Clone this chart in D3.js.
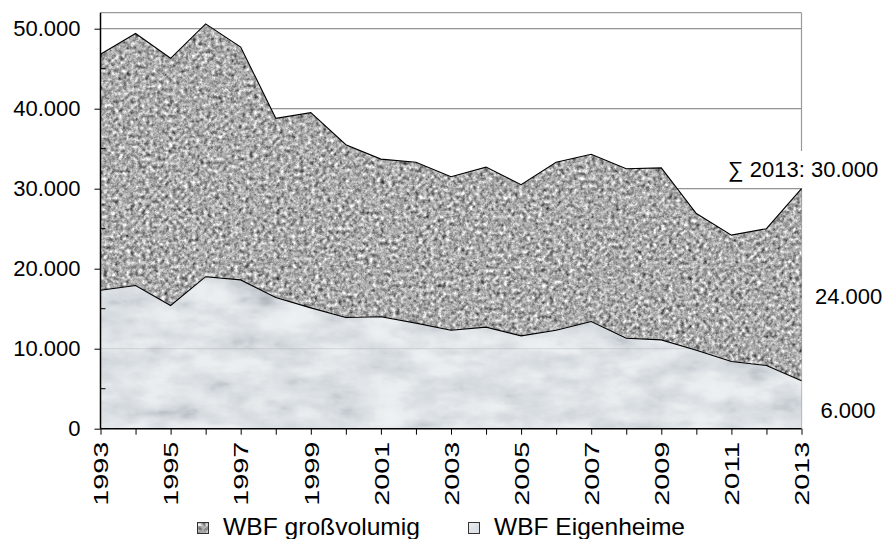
<!DOCTYPE html>
<html>
<head>
<meta charset="utf-8">
<script src="https://cdn.jsdelivr.net/npm/d3@7"></script>
<style>
  html, body { margin: 0; padding: 0; background: #fff; }
  svg { display: block; font-family: "Liberation Sans", Arial, sans-serif; }
</style>
</head>
<body>
<svg id="chart" width="884" height="539"></svg>
<script>
// Wohnbauförderung: geförderte Einheiten pro Jahr
const years = [1993, 1994, 1995, 1996, 1997, 1998, 1999, 2000, 2001, 2002, 2003,
               2004, 2005, 2006, 2007, 2008, 2009, 2010, 2011, 2012, 2013];
const eigenheime = [17300, 17900, 15400, 19000, 18600, 16400, 15100, 13900, 14000, 13200, 12300,
                    12700, 11600, 12300, 13400, 11300, 11100, 9800, 8400, 7900, 6000];
const grossvolumig = [29500, 31500, 30900, 31600, 29100, 22400, 24400, 21600, 19700, 20100, 19200,
                      20000, 18900, 21000, 20900, 21200, 21500, 17100, 15800, 17100, 24000];
const seriesNames = ["WBF großvolumig", "WBF Eigenheime"];
const yTicks = [0, 10000, 20000, 30000, 40000, 50000];
const yMinorTicks = [5000, 15000, 25000, 35000, 45000];
const yMax = 52000;

const FONT = "'Liberation Sans', Arial, sans-serif";
const svg = d3.select("#chart");
const de = d3.formatLocale({ decimal: ",", thousands: ".", grouping: [3], currency: ["", "€"] });
const fmt = de.format(",");

const x = d3.scaleLinear().domain([years[0], years[years.length - 1]]).range([100.5, 801.5]);
const y = d3.scaleLinear().domain([0, yMax]).range([428.7, 12.7]);

const rows = years.map((yr, i) => ({ year: yr, eigenheime: eigenheime[i], grossvolumig: grossvolumig[i] }));
const stacked = d3.stack().keys(["eigenheime", "grossvolumig"])(rows);

// textures
const defs = svg.append("defs");
const gray = "0.34 0.33 0.33 0 0  0.34 0.33 0.33 0 0  0.34 0.33 0.33 0 0  0 0 0 0 1";

const granite = defs.append("filter").attr("id", "granite")
  .attr("x", 0).attr("y", 0).attr("width", 1).attr("height", 1)
  .attr("color-interpolation-filters", "sRGB");
granite.append("feTurbulence").attr("type", "fractalNoise")
  .attr("baseFrequency", 0.26).attr("numOctaves", 3).attr("seed", 7).attr("result", "n");
granite.append("feColorMatrix").attr("type", "matrix").attr("values", gray).attr("result", "g");
const gct = granite.append("feComponentTransfer").attr("result", "c");
["feFuncR", "feFuncG", "feFuncB"].forEach(f =>
  gct.append(f).attr("type", "linear").attr("slope", 1.8).attr("intercept", -0.23));
granite.append("feComposite").attr("in", "c").attr("in2", "SourceGraphic").attr("operator", "in");

const marble = defs.append("filter").attr("id", "marble")
  .attr("x", 0).attr("y", 0).attr("width", 1).attr("height", 1)
  .attr("color-interpolation-filters", "sRGB");
marble.append("feTurbulence").attr("type", "fractalNoise")
  .attr("baseFrequency", "0.022 0.045").attr("numOctaves", 4).attr("seed", 3).attr("result", "n");
marble.append("feColorMatrix").attr("type", "matrix").attr("values", gray).attr("result", "g");
const mct = marble.append("feComponentTransfer").attr("result", "c");
mct.append("feFuncR").attr("type", "table").attr("tableValues", "0.5 0.66 0.83 0.915 0.945 0.955");
mct.append("feFuncG").attr("type", "table").attr("tableValues", "0.52 0.68 0.85 0.93 0.955 0.965");
mct.append("feFuncB").attr("type", "table").attr("tableValues", "0.55 0.71 0.87 0.94 0.965 0.975");
marble.append("feComposite").attr("in", "c").attr("in2", "SourceGraphic").attr("operator", "in");

// gridlines and frame
svg.append("g").selectAll("line").data(yTicks.filter(d => d > 0)).join("line")
  .attr("x1", x.range()[0]).attr("x2", x.range()[1])
  .attr("y1", d => y(d)).attr("y2", d => y(d))
  .attr("stroke", "#9a9a9a").attr("stroke-width", 1.2);
svg.append("line").attr("x1", x.range()[0]).attr("x2", x.range()[1])
  .attr("y1", y(yMax)).attr("y2", y(yMax)).attr("stroke", "#9a9a9a").attr("stroke-width", 1.2);
svg.append("line").attr("x1", x.range()[1]).attr("x2", x.range()[1])
  .attr("y1", y(yMax)).attr("y2", y(0)).attr("stroke", "#9a9a9a").attr("stroke-width", 1.2);

// stacked areas
const area = d3.area().x(d => x(d.data.year)).y0(d => y(d[0])).y1(d => y(d[1]));
const line = d3.line().x(d => x(d.data.year)).y(d => y(d[1]));
svg.append("path").datum(stacked[0]).attr("d", area).attr("fill", "#ddd").attr("filter", "url(#marble)");
svg.append("path").datum(stacked[1]).attr("d", area).attr("fill", "#aaa").attr("filter", "url(#granite)");

// faint gridlines showing through the fills
svg.append("g").selectAll("line").data(yTicks.filter(d => d > 0)).join("line")
  .attr("x1", x.range()[0]).attr("x2", x.range()[1])
  .attr("y1", d => y(d)).attr("y2", d => y(d))
  .attr("stroke", "#808080").attr("stroke-width", 1).attr("opacity", 0.22);

stacked.forEach(s => {
  svg.append("path").datum(s).attr("d", line)
    .attr("fill", "none").attr("stroke", "#000").attr("stroke-width", 1.1);
});

// axes
const yAxis = svg.append("g").attr("transform", `translate(${x.range()[0]},0)`)
  .call(d3.axisLeft(y).tickValues(yTicks).tickFormat(fmt).tickSize(6).tickPadding(14));
yAxis.attr("font-family", FONT);
yAxis.select(".domain").attr("stroke", "#000").attr("stroke-width", 1.5)
  .attr("d", `M0,${y(0)}V${y(yMax)}`);
yAxis.selectAll("text").attr("font-size", 22).attr("fill", "#000");
yAxis.selectAll(".tick line").attr("stroke", "#000");
yAxis.selectAll(".minor").data(yMinorTicks).join("line").attr("class", "minor")
  .attr("x1", 0).attr("x2", 5).attr("y1", d => y(d)).attr("y2", d => y(d))
  .attr("stroke", "#000").attr("stroke-width", 1);

const xAxis = svg.append("g").attr("transform", `translate(0,${y(0)})`)
  .call(d3.axisBottom(x).tickValues(years).tickFormat(d => (d % 2 === 1 ? String(d) : "")).tickSize(6));
xAxis.attr("font-family", FONT);
xAxis.select(".domain").attr("stroke", "#000").attr("stroke-width", 1.5)
  .attr("d", `M${x.range()[0]},0H${x.range()[1]}`);
xAxis.selectAll(".tick line").attr("stroke", "#000");
xAxis.selectAll("text")
  .attr("font-size", 20).attr("fill", "#000")
  .attr("text-anchor", "start")
  .attr("transform", "rotate(-90)")
  .attr("x", -77).attr("y", 0).attr("dy", "0.36em")
  .attr("textLength", d => (d % 2 === 1 ? 64 : null))
  .attr("lengthAdjust", "spacingAndGlyphs");

// value labels at the right
const last = years.length - 1;
const lastTotal = eigenheime[last] + grossvolumig[last];
const sumG = svg.append("g");
const sumRect = sumG.append("rect").attr("fill", "#fff");
const sumText = sumG.append("text")
  .attr("x", 728).attr("y", 177).attr("font-size", 22).attr("fill", "#000")
  .text(`∑ ${years[last]}: ${fmt(lastTotal)}`);
const bb = sumText.node().getBBox();
sumRect.attr("x", bb.x - 7).attr("y", 151).attr("width", bb.width + 14).attr("height", 37);

svg.append("text").attr("x", 815).attr("y", 303.5).attr("font-size", 22).attr("fill", "#000")
  .text(fmt(grossvolumig[last]));
svg.append("text").attr("x", 820.5).attr("y", 418.3).attr("font-size", 22).attr("fill", "#000")
  .text(fmt(eigenheime[last]));

// legend
const legend = [
  { name: seriesNames[0], sx: 197, tx: 223, w: 197, filter: "url(#granite)", fill: "#aaa" },
  { name: seriesNames[1], sx: 468, tx: 494, w: 191, filter: "url(#marble)", fill: "#ddd" }
];
const lg = svg.append("g").selectAll("g").data(legend).join("g");
lg.append("rect").attr("x", d => d.sx).attr("y", 522).attr("width", 12).attr("height", 12)
  .attr("fill", d => d.fill).attr("filter", d => d.filter);
lg.append("rect").attr("x", d => d.sx + 0.5).attr("y", 522.5).attr("width", 11).attr("height", 11)
  .attr("fill", "none").attr("stroke", "#333").attr("stroke-width", 1);
lg.append("text").attr("x", d => d.tx).attr("y", 535).attr("font-size", 24).attr("fill", "#000")
  .attr("textLength", d => d.w).attr("lengthAdjust", "spacingAndGlyphs")
  .text(d => d.name);
</script>
</body>
</html>
